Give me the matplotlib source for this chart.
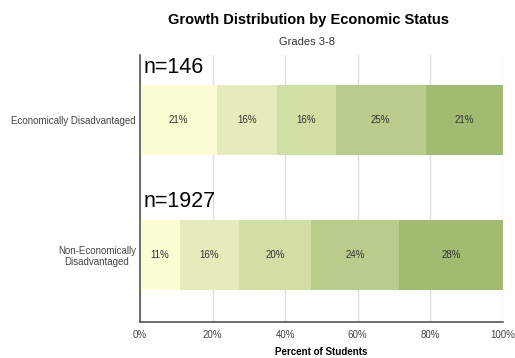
import matplotlib
matplotlib.use('Agg')
import matplotlib.pyplot as plt
from matplotlib.ticker import PercentFormatter

plt.rcParams['font.family'] = ['Liberation Sans', 'DejaVu Sans']

groups = ['Economically Disadvantaged', 'Non-Economically\nDisadvantaged']
counts = ['n=146', 'n=1927']
# segment widths, printed labels as shown
shares = [
    [21.1, 11.0],
    [16.6, 16.3],
    [16.2, 19.8],
    [24.8, 24.2],
    [21.3, 28.7],
]
labels = [
    ['21%', '11%'],
    ['16%', '16%'],
    ['16%', '20%'],
    ['25%', '24%'],
    ['21%', '28%'],
]
colors = ['#fdfdd3', '#e6ebbc', '#d1dea4', '#bacc8c', '#a3ba71']
ypos = [1, 0]

fig = plt.figure(figsize=(5.15, 3.58), dpi=100)
ax = fig.add_axes([140 / 515, 1 - 322 / 358, 363 / 515, 267 / 358])

left = [0, 0]
for vals, labs, c in zip(shares, labels, colors):
    ax.barh(ypos, vals, left=left, height=0.52, color=c, zorder=2)
    for y, v, l, t in zip(ypos, vals, left, labs):
        ax.text(l + v / 2, y, t, ha='center', va='center',
                fontsize=7, color='#333333', zorder=3)
    left = [a + b for a, b in zip(left, vals)]

for y, n in zip(ypos, counts):
    ax.text(1, y + 0.39, n, ha='left', va='center', fontsize=15.5,
            color='black', zorder=3)

ax.set_xlim(0, 100)
ax.set_ylim(-0.5, 1.48)
ax.set_xticks(range(0, 101, 20))
ax.xaxis.set_major_formatter(PercentFormatter(decimals=0))
ax.set_yticks(ypos)
ax.set_yticklabels(groups)
ax.tick_params(axis='both', length=0, labelsize=7, colors='#444444', pad=6)
ax.tick_params(axis='y', pad=3)
for lab in ax.get_yticklabels():
    lab.set_multialignment('center')

ax.grid(axis='x', color='#dddddd', linewidth=1, zorder=0)
for s in ['top', 'right']:
    ax.spines[s].set_visible(False)
ax.spines['left'].set_color('#555555')
ax.spines['left'].set_linewidth(1.2)
ax.spines['bottom'].set_color('#555555')
ax.spines['bottom'].set_linewidth(1.2)

ax.set_xlabel('Percent of Students', fontsize=7, fontweight='bold', labelpad=5)
fig.text(308 / 515, 1 - 20 / 358, 'Growth Distribution by Economic Status',
         ha='center', va='center', fontsize=10.5, fontweight='bold')
fig.text(307 / 515, 1 - 42 / 358, 'Grades 3-8',
         ha='center', va='center', fontsize=8, color='#333333')

fig.savefig('out.png', dpi=100)
